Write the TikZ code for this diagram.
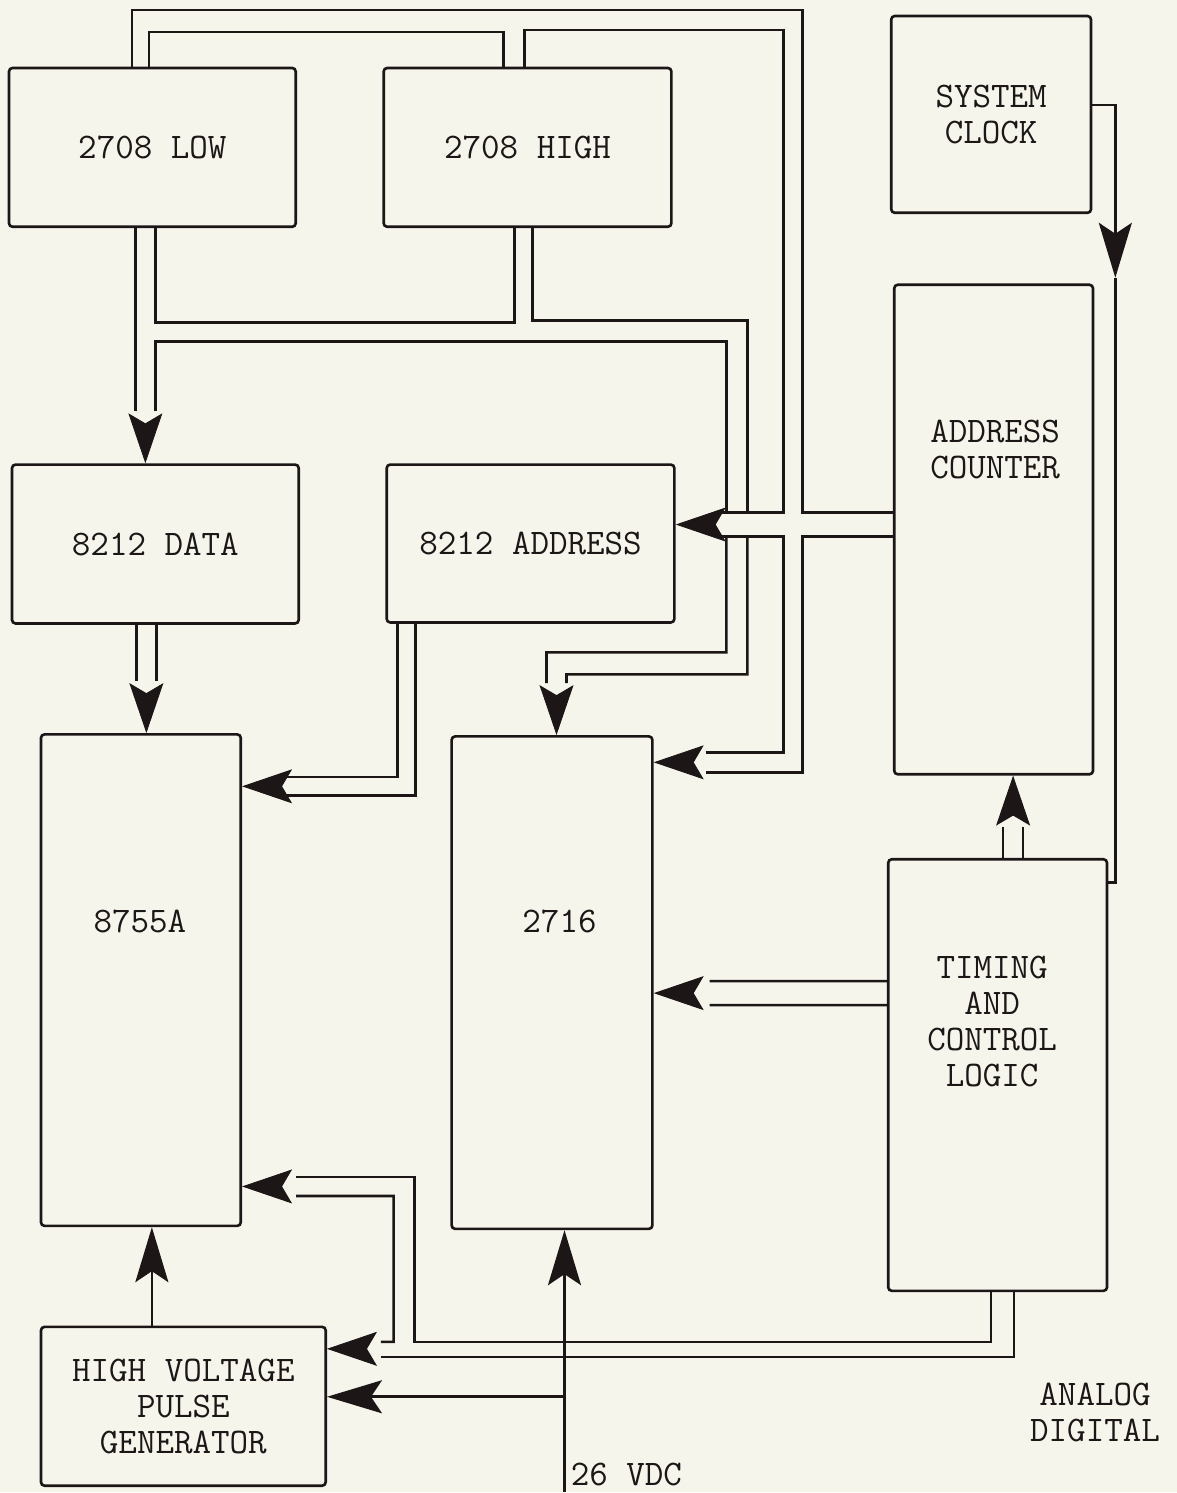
\documentclass[tikz,border=0pt]{standalone}
\usepackage{fontspec}
\usetikzlibrary{arrows.meta, positioning, calc}
\definecolor{paper}{RGB}{245,245,236}
\definecolor{ink}{RGB}{28,22,22}

\begin{document}
\begin{tikzpicture}[
      x=0.02cm, y=-0.02cm,
      block/.style={draw=ink, line width=1.5pt, rectangle, rounded corners=2pt, align=center, inner sep=0pt, text=ink, font=\ttfamily\fontsize{20.5}{20.5}\selectfont},
      lbl/.style={align=center, inner sep=0pt, text=ink, font=\ttfamily\fontsize{20.5}{20.5}\selectfont},
      wire/.style={draw=ink, line width=1.5pt},
      feed/.style={wire, -{Stealth[length=1.1cm, width=0.66cm, inset=0.22cm]}},
      bushead/.style={draw=paper, line width=0.5pt, -{Stealth[length=1.0cm, width=0.68cm, inset=0.2cm, color=ink]}}
  ]
      \fill[paper] (0,0) rectangle (1178,1493);

      % Top: program memories and clock
      \node [block, minimum width=5.74cm, minimum height=3.18cm] (low) at (152.5,147.5) {2708 LOW};
      \node [block, minimum width=5.76cm, minimum height=3.18cm] (high) at (528,147.5) {2708 HIGH};
      \node [block, minimum width=4.0cm, minimum height=3.94cm] (clock) at (992,114.5) {SYSTEM\\CLOCK};

      % Middle: latches and counter
      \node [block, minimum width=5.74cm, minimum height=3.18cm] (data) at (155.5,544.5) {8212 DATA};
      \node [block, minimum width=5.76cm, minimum height=3.16cm] (addr) at (531,544) {8212 ADDRESS};
      \node [block, minimum width=3.98cm, minimum height=9.8cm] (counter) at (994.5,530) {};
      \node [lbl] (counterlbl) at ($(counter.center)+(1.5,-80)$) {ADDRESS\\COUNTER};

      % Lower: target devices and control
      \node [block, minimum width=4.0cm, minimum height=9.84cm] (p8755) at (141,981) {};
      \node [lbl] (p8755lbl) at ($(p8755.center)+(-1,-59)$) {8755A};
      \node [block, minimum width=4.02cm, minimum height=9.86cm] (p2716) at (552.5,983.5) {};
      \node [lbl] (p2716lbl) at ($(p2716.center)+(7.5,-61.5)$) {2716};
      \node [block, minimum width=4.38cm, minimum height=8.64cm] (timing) at (998.5,1076) {};
      \node [lbl] (timinglbl) at ($(timing.center)+(-5.5,-53.5)$) {TIMING\\AND\\CONTROL\\LOGIC};
      \node [block, minimum width=5.7cm, minimum height=3.18cm] (hvgen) at (183.5,1407.5) {HIGH VOLTAGE\\PULSE\\GENERATOR};
      \node [lbl] (modes) at (1096,1413.5) {ANALOG\\DIGITAL};
      \coordinate (vdc) at (565,1493);
      \node [lbl, anchor=west] (vdclbl) at ($(vdc)+(6,-17)$) {26 VDC};

      % Arrow bases
      \coordinate (datain) at ($(data.north)+(-10,-52)$);
      \coordinate (d8755) at ($(p8755.north)+(5.5,-52)$);
      \coordinate (addrin) at ($(addr.east)+(45,-19)$);
      \coordinate (t2716) at ($(p2716.north)+(4.5,-52)$);
      \coordinate (r2716) at ($(p2716.east)+(52,-220.5)$);
      \coordinate (r8755a) at ($(p8755.east)+(45,-194)$);
      \coordinate (tcount) at ($(counter.south)+(19.5,51)$);
      \coordinate (t2716r) at ($(p2716.east)+(56,10.5)$);
      \coordinate (r8755b) at ($(p8755.east)+(54,206.5)$);
      \coordinate (hvin) at ($(hvgen.east)+(54,-57.5)$);
      \coordinate (clktip) at ($(clock.east)+(23,163.5)$);

      % Address lines over the top
      \path [wire] ($(low.north)+(-20.5,0)$) |- (803,10) |- ($(counter.west)+(0,-17)$);
      \path [wire] ($(low.north)+(-3.5,0)$) |- (504,32) -- ($(high.north)+(-24,0)$);
      \path [wire] ($(high.north)+(-3,0)$) |- (784,30) |- ($(addrin)+(0,-12)$);
      \path [wire] ($(addrin)+(0,12)$) -| (784,753) -- ($(r2716)+(0,-10)$);
      \path [wire] ($(counter.west)+(0,7)$) -| (803,773) -- ($(r2716)+(0,10)$);
      \path [bushead] (addrin) -- (addrin -| addr.east);
      \path [bushead] (r2716) -- (r2716 -| p2716.east);

      % Data lines
      \path [wire] ($(low.south)+(-17,0)$) -- ($(datain)+(-10,0)$);
      \path [wire] ($(low.south)+(3,0)$) |- (515,323) -- ($(high.south)+(-13,0)$);
      \path [wire] ($(datain)+(10,0)$) |- (727,342) -- (727,513);
      \path [wire] ($(high.south)+(5,0)$) |- (748,321) -- (748,513);
      \path [wire] (727,537) |- (547,653) -- ($(t2716)+(-10,0)$);
      \path [wire] (748,537) |- (567,675) -- ($(t2716)+(10,0)$);
      \path [bushead] (datain) -- (datain |- data.north);
      \path [bushead] (t2716) -- (t2716 |- p2716.north);

      \path [wire] ($(data.south)+(-19,0)$) -- ($(d8755)+(-10,0)$);
      \path [wire] ($(data.south)+(1,0)$) -- ($(d8755)+(10,0)$);
      \path [bushead] (d8755) -- (d8755 |- p8755.north);

      \path [wire] ($(addr.south)+(-133,0)$) |- ($(r8755a)+(0,-9.5)$);
      \path [wire] ($(addr.south)+(-115,0)$) |- ($(r8755a)+(0,9.5)$);
      \path [bushead] (r8755a) -- (r8755a -| p8755.east);

      % Control
      \path [wire] ($(timing.north)+(5.5,0)$) -- ($(tcount)+(-10,0)$);
      \path [wire] ($(timing.north)+(25.5,0)$) -- ($(tcount)+(10,0)$);
      \path [bushead] (tcount) -- (tcount |- counter.south);

      \path [wire] ($(timing.west)+(0,-94)$) -- ($(t2716r)+(0,-12)$);
      \path [wire] ($(timing.west)+(0,-70)$) -- ($(t2716r)+(0,12)$);
      \path [bushead] (t2716r) -- (t2716r -| p2716.east);

      \path [feed] ($(clock.east)+(0,-9.5)$) -| (clktip);
      \path [wire] (clktip) |- ($(timing.east)+(0,-193)$);

      \path [wire] ($(timing.south)+(-6.5,0)$) |- (415,1343) |- ($(r8755b)+(0,-9.5)$);
      \path [wire] ($(timing.south)+(16.5,0)$) |- ($(hvin)+(0,8)$);
      \path [wire] ($(hvin)+(0,-7)$) -| (394,1197) -- ($(r8755b)+(0,9.5)$);
      \path [bushead] (r8755b) -- (r8755b -| p8755.east);
      \path [bushead] (hvin) -- (hvin -| hvgen.east);

      % Supply and pulse
      \path [feed] (vdc) -- (vdc |- p2716.south);
      \path [feed] ($(vdc)+(0,-95)$) -- ($(hvgen.east)+(0,-9.5)$);
      \path [feed] ($(hvgen.north)+(-31.5,0)$) -- ($(p8755.south)+(11,0)$);
  \end{tikzpicture}
\end{document}
